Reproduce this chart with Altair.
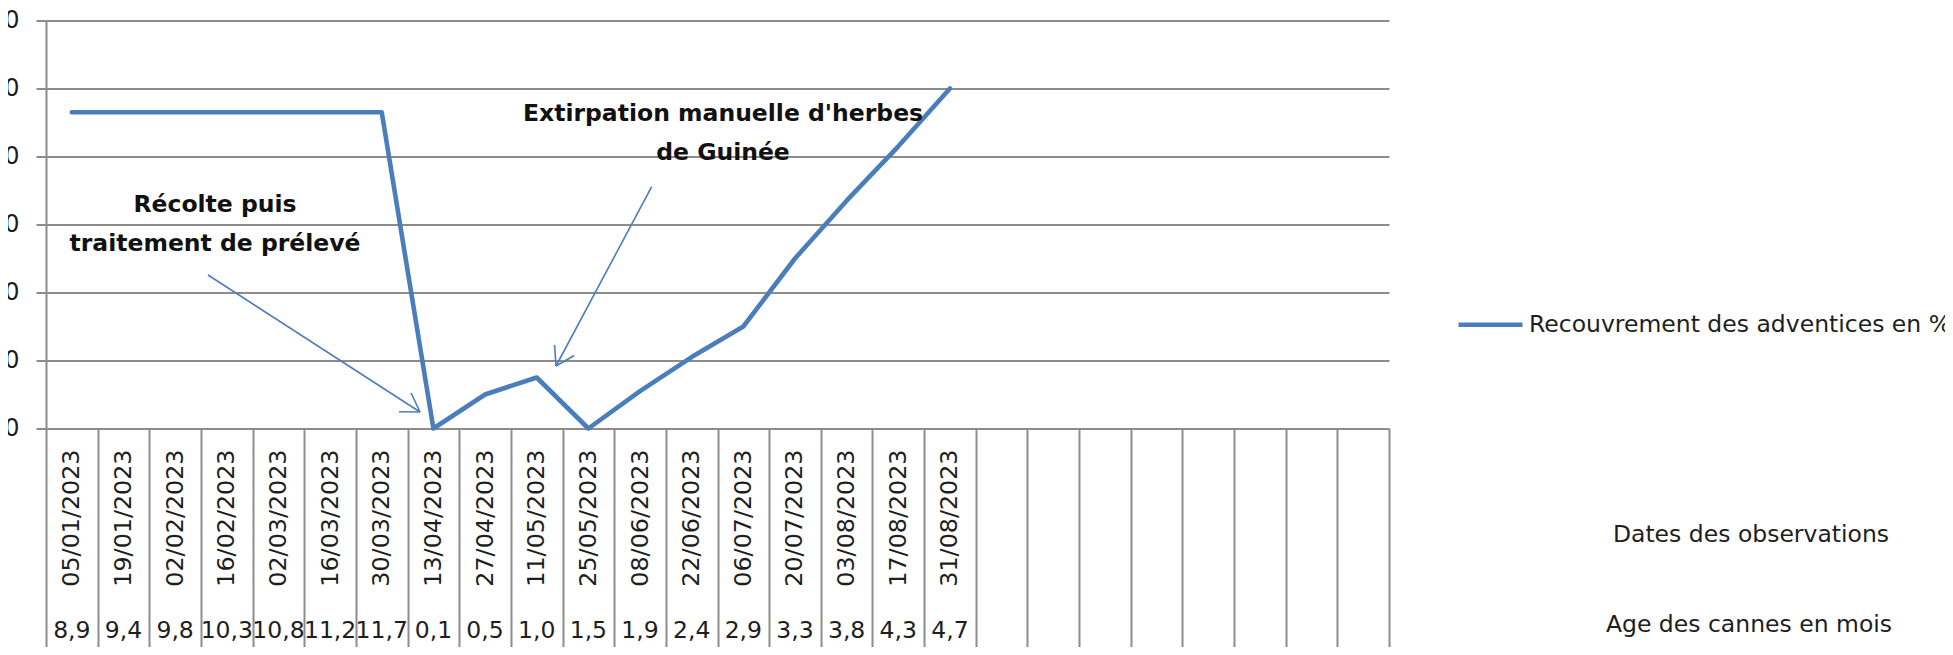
import altair as alt
import pandas as pd
import numpy as np

# ---------------- data ----------------
dates = ["05/01/2023", "19/01/2023", "02/02/2023", "16/02/2023", "02/03/2023",
         "16/03/2023", "30/03/2023", "13/04/2023", "27/04/2023", "11/05/2023",
         "25/05/2023", "08/06/2023", "22/06/2023", "06/07/2023", "20/07/2023",
         "03/08/2023", "17/08/2023", "31/08/2023"]
ages = ["8,9", "9,4", "9,8", "10,3", "10,8", "11,2", "11,7", "0,1", "0,5", "1,0",
        "1,5", "1,9", "2,4", "2,9", "3,3", "3,8", "4,3", "4,7"]
recouvrement = [93, 93, 93, 93, 93, 93, 93, 0, 10, 15, 0, 11, 21, 30, 50, 67, 83, 100]
empty_slots = ["vide1", "vide2", "vide3", "vide4", "vide5", "vide6", "vide7", "vide8"]
y_ticks = [0, 20, 40, 60, 80, 100, 120]
serie = "Recouvrement des adventices en %"

annot_texts = ["Récolte puis\ntraitement de prélevé",
               "Extirpation manuelle d'herbes\nde Guinée"]
annot_x = [169, 677]
annot_y = [191, 100]
arrow_start = [(162, 254.5), (605.7, 166.2)]
arrow_tip = [(374, 391.5), (510, 345.5)]
side_texts = ["Dates des observations", "Age des cannes en mois"]
side_x = [1705, 1703]
side_y = [521, 611]

# ---------------- style ----------------
W, H = 1343, 408
BLUE = "#4A7EBB"
GRID = "#8C8C8C"
TXT = "#1E1E1E"
FONT = "DejaVu Sans"

df = pd.DataFrame({"date": dates, "age": ages, "val": recouvrement, "serie": serie})

xscale = alt.Scale(type="band", domain=dates + empty_slots, paddingInner=0, paddingOuter=0)
x_enc = alt.X(
    "date:N", scale=xscale, bandPosition=0.5,
    axis=alt.Axis(title=None, labelAngle=-90, labelFont=FONT, labelFontSize=23.8,
                  labelColor=TXT, labelPadding=-199.5, tickBand="extent",
                  tickSize=220, tickColor=GRID, tickWidth=2, domainColor=GRID,
                  domainWidth=2, grid=False, labelOverlap=False,
                  labelExpr="indexof(datum.label + '', 'vide') == 0 ? '' : datum.label"),
)
y_enc = alt.Y(
    "val:Q", scale=alt.Scale(domain=[0, 120], nice=False),
    axis=alt.Axis(values=y_ticks, title=None, labelFont=FONT, labelFontSize=24,
                  labelColor=TXT, labelPadding=17, tickSize=10, tickColor=GRID,
                  tickWidth=2, domainColor=GRID, domainWidth=2, grid=True,
                  gridColor=GRID, gridWidth=2),
)

line = alt.Chart(df).mark_line(strokeWidth=4.6, strokeJoin="round", strokeCap="round").encode(
    x=x_enc, y=y_enc,
    color=alt.Color("serie:N", scale=alt.Scale(domain=[serie], range=[BLUE]),
                    legend=alt.Legend(title=None, orient="none", legendX=1410, legendY=269.8,
                                      symbolType="stroke", symbolSize=4096,
                                      symbolStrokeWidth=4.6, labelFont=FONT,
                                      labelFontSize=23.5, labelColor=TXT, labelLimit=2000,
                                      labelOffset=4, padding=0)),
)

ages_layer = alt.Chart(df).mark_text(font=FONT, fontSize=23.5, color=TXT,
                                     baseline="alphabetic", align="center").encode(
    x=x_enc, y=alt.value(H + 209.5), text="age:N")

one = pd.DataFrame({"k": [0]})
layers = [line, ages_layer]

for t, ax, ay in zip(annot_texts, annot_x, annot_y):
    layers.append(alt.Chart(one).mark_text(font=FONT, fontWeight="bold", fontSize=23.5,
                                           color="#111111", align="center",
                                           baseline="alphabetic", lineBreak="\n",
                                           lineHeight=39).encode(
        x=alt.value(ax), y=alt.value(ay), text=alt.value(t)))

head_len, head_ang = 21, np.deg2rad(32)
for (x0, y0), (x1, y1) in zip(arrow_start, arrow_tip):
    layers.append(alt.Chart(one).mark_rule(color=BLUE, strokeWidth=1.6).encode(
        x=alt.value(x0), y=alt.value(y0), x2=alt.value(x1), y2=alt.value(y1)))
    back = np.arctan2(y0 - y1, x0 - x1)
    for s in (-1, 1):
        hx = x1 + head_len * np.cos(back + s * head_ang)
        hy = y1 + head_len * np.sin(back + s * head_ang)
        layers.append(alt.Chart(one).mark_rule(color=BLUE, strokeWidth=1.6).encode(
            x=alt.value(x1), y=alt.value(y1), x2=alt.value(float(hx)), y2=alt.value(float(hy))))

for t, sx, sy in zip(side_texts, side_x, side_y):
    layers.append(alt.Chart(one).mark_text(font=FONT, fontSize=23.5, color=TXT,
                                           align="center", baseline="alphabetic").encode(
        x=alt.value(sx), y=alt.value(sy), text=alt.value(t)))

chart = alt.layer(*layers).properties(
    width=W, height=H,
    autosize=alt.AutoSizeParams(type="none"),
    padding={"left": 38, "top": 12.5, "right": 556, "bottom": 218.5},
).configure(background="white").configure_view(stroke=None)

chart.save("out.html", embed_options={"renderer": "svg", "actions": False})
